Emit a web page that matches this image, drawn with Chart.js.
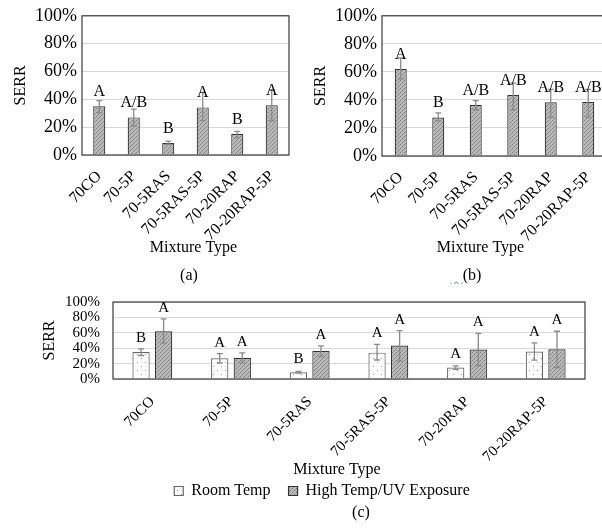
<!DOCTYPE html>
<html>
<head>
<meta charset="utf-8">
<script src="https://cdn.jsdelivr.net/npm/chart.js@4.4.1/dist/chart.umd.min.js"></script>
<style>
  html, body { margin: 0; padding: 0; background: #fff; overflow: hidden; width: 602px; height: 531px; position: relative;
    font-family: "Liberation Serif", "Times New Roman", serif; }
  canvas { position: absolute; }
  .cap { position: absolute; font-size: 16px; line-height: 16px; color: #000; transform: translateX(-50%); white-space: nowrap; }
  .sq { text-decoration: underline wavy #4a7bd0; text-decoration-thickness: 1px; }
</style>
</head>
<body>
<canvas id="chartA" width="300" height="260" style="left:0;top:0;width:300px;height:260px"></canvas>
<canvas id="chartB" width="310" height="260" style="left:300px;top:0;width:310px;height:260px"></canvas>
<canvas id="chartC" width="602" height="229" style="left:0;top:280px;width:602px;height:229px"></canvas>
<div class="cap" style="left:189px;top:267px">(a)</div>
<div class="cap" style="left:466px;top:267px"><span class="sq">&nbsp;&nbsp;&nbsp;</span>(b)</div>
<div class="cap" style="left:361px;top:504px">(c)</div>

<script>
const FONT = '"Liberation Serif", "Times New Roman", serif';

// mixtures
const categories = ['70CO', '70-5P', '70-5RAS', '70-5RAS-5P', '70-20RAP', '70-20RAP-5P'];
const yTicks = [0, 20, 40, 60, 80, 100];

// room temp SERR (%)
const roomMean = [35, 27, 8.7, 34.2, 15, 35.8];
const roomLow  = [30.5, 20.8, 7.6, 24.7, 12.5, 24.5];
const roomHigh = [39, 33, 10, 45, 17, 47];

// high temp / UV SERR (%)
const uvMean = [62, 27.5, 36.4, 43.5, 38.3, 38.6];
// error bars as drawn in (b)
const uvLowB  = [55, 25, 33, 33, 27.7, 27.7];
const uvHighB = [70, 30.8, 39.5, 52, 47.5, 47.5];
// error bars as drawn in (c)
const uvLowC  = [46.5, 20.9, 29.5, 23.3, 17, 14.7];
const uvHighC = [78, 34, 43, 62.8, 59.3, 62];

// significance letters
const lettersA = ['A', 'A/B', 'B', 'A', 'B', 'A'];
const lettersB = ['A', 'B', 'A/B', 'A/B', 'A/B', 'A/B'];
const lettersRoomC = ['B', 'A', 'B', 'A', 'A', 'A'];
const lettersUvC = ['A', 'A', 'A', 'A', 'A', 'A'];

function makePattern(size, bg, dots) {
  const c = document.createElement('canvas');
  c.width = size; c.height = size;
  const g = c.getContext('2d');
  g.fillStyle = bg;
  g.fillRect(0, 0, size, size);
  dots.forEach(d => { g.fillStyle = d[2]; g.fillRect(d[0], d[1], 1, 1); });
  return g.createPattern(c, 'repeat');
}

const uvFill = makePattern(4, '#b8b8b8', [[0,0,'#7c7c7c'],[2,2,'#7c7c7c'],[1,3,'#9a9a9a'],[3,1,'#9a9a9a']]);
const roomFill = makePattern(8, '#ffffff', [[1,2,'#9a9a9a'],[5,6,'#9a9a9a']]);

// frame, error bars and letters
const decoPlugin = {
  id: 'deco',
  afterDatasetsDraw(chart, args, opts) {
    const ctx = chart.ctx, a = chart.chartArea, y = chart.scales.y;
    ctx.save();
    ctx.strokeStyle = '#3a3a3a';
    ctx.lineWidth = 1.2;
    ctx.strokeRect(a.left, a.top, a.right - a.left, a.bottom - a.top);

    chart.data.datasets.forEach((ds, i) => {
      const meta = chart.getDatasetMeta(i);
      meta.data.forEach((bar, j) => {
        const lo = y.getPixelForValue(ds.errLow[j]);
        const hi = y.getPixelForValue(ds.errHigh[j]);
        ctx.strokeStyle = '#8a8a8a';
        ctx.lineWidth = 1.3;
        ctx.beginPath();
        ctx.moveTo(bar.x, lo); ctx.lineTo(bar.x, hi);
        ctx.moveTo(bar.x - 3, lo); ctx.lineTo(bar.x + 3, lo);
        ctx.moveTo(bar.x - 3, hi); ctx.lineTo(bar.x + 3, hi);
        ctx.stroke();

        let ty = bar.y - opts.gapBar;
        if (opts.aboveError) ty = Math.min(ty, hi - opts.gapErr);
        ctx.fillStyle = '#000';
        ctx.font = opts.fontSize + 'px ' + FONT;
        ctx.textAlign = 'center';
        ctx.textBaseline = 'alphabetic';
        ctx.fillText(ds.letters[j], bar.x, ty);
      });
    });
    ctx.restore();
  }
};

function buildOptions(o) {
  return {
    responsive: false,
    animation: false,
    layout: { padding: { top: o.padTop, right: o.padRight, left: o.padLeft || 0, bottom: 0 } },
    plugins: {
      legend: o.legend || { display: false },
      tooltip: { enabled: false },
      deco: { gapBar: o.gapBar, gapErr: o.gapErr, aboveError: o.aboveError, fontSize: o.letterSize }
    },
    scales: {
      x: {
        grid: { display: false },
        border: { display: false },
        ticks: { color: '#000', font: { family: FONT, size: o.xFont }, minRotation: 45, maxRotation: 45, autoSkip: false, padding: o.xPad },
        title: { display: true, text: o.xTitle, color: '#000', font: { family: FONT, size: 16 }, padding: { top: 0, bottom: o.xTitlePad } },
        afterFit(s) { s.height = o.xHeight; }
      },
      y: {
        min: 0, max: 100,
        afterBuildTicks(s) { s.ticks = yTicks.map(v => ({ value: v })); },
        ticks: { color: '#000', font: { family: FONT, size: o.yFont }, padding: o.yPad, autoSkip: false, callback: v => v + '%' },
        grid: { color: '#d9d9d9', drawTicks: false },
        border: { display: false },
        title: { display: true, text: 'SERR', color: '#000', font: { family: FONT, size: 16 }, padding: { top: o.yTitlePad, bottom: 0 } },
        afterFit(s) { s.width = o.yWidth; }
      }
    }
  };
}

// (a) room temperature
new Chart(document.getElementById('chartA'), {
  type: 'bar',
  data: {
    labels: categories,
    datasets: [{
      label: 'Room Temp', data: roomMean, errLow: roomLow, errHigh: roomHigh, letters: lettersA,
      backgroundColor: uvFill, borderColor: '#333', borderWidth: 1.2,
      categoryPercentage: 1, barPercentage: 0.35
    }]
  },
  options: buildOptions({ padTop: 14, padRight: 11, yWidth: 82, xHeight: 105, xFont: 16, yFont: 18, xPad: 4,
    yPad: 5, yTitlePad: 11, xTitlePad: 3, gapBar: 10, gapErr: 7, aboveError: false, letterSize: 16,
    xTitle: '    Mixture Type' }),
  plugins: [decoPlugin]
});

// (b) high temperature / UV
new Chart(document.getElementById('chartB'), {
  type: 'bar',
  data: {
    labels: categories,
    datasets: [{
      label: 'High Temp/UV Exposure', data: uvMean, errLow: uvLowB, errHigh: uvHighB, letters: lettersB,
      backgroundColor: uvFill, borderColor: '#333', borderWidth: 1.2,
      categoryPercentage: 1, barPercentage: 0.32
    }]
  },
  options: buildOptions({ padTop: 14, padRight: 3, yWidth: 82, xHeight: 104, xFont: 16, yFont: 18, xPad: 4,
    yPad: 5, yTitlePad: 11, xTitlePad: 3, gapBar: 10, gapErr: 7, aboveError: false, letterSize: 16,
    xTitle: 'Mixture Type       ' }),
  plugins: [decoPlugin]
});

// (c) both conditions
new Chart(document.getElementById('chartC'), {
  type: 'bar',
  data: {
    labels: categories,
    datasets: [{
      label: 'Room Temp', data: roomMean, errLow: roomLow, errHigh: roomHigh, letters: lettersRoomC,
      backgroundColor: roomFill, borderColor: '#666', borderWidth: 1.2,
      categoryPercentage: 0.574, barPercentage: 0.766
    }, {
      label: 'High Temp/UV Exposure', data: uvMean, errLow: uvLowC, errHigh: uvHighC, letters: lettersUvC,
      backgroundColor: uvFill, borderColor: '#333', borderWidth: 1.2,
      categoryPercentage: 0.574, barPercentage: 0.766
    }]
  },
  options: buildOptions({ padTop: 13, padRight: 17, padLeft: 59, yWidth: 54, xHeight: 94, xFont: 15, yFont: 15, xPad: 6,
    yPad: 13, yTitlePad: -18.6, xTitlePad: -6.6, gapBar: 9, gapErr: 7, aboveError: true, letterSize: 15,
    xTitle: 'Mixture Type      ',
    legend: { display: true, position: 'bottom',
      labels: { color: '#000', font: { family: FONT, size: 16 }, boxWidth: 9, boxHeight: 9, padding: 10,
        generateLabels(chart) {
          const items = Chart.defaults.plugins.legend.labels.generateLabels(chart);
          items[0].text += '\u2002';
          return items;
        } } } }),
  plugins: [decoPlugin]
});
</script>
</body>
</html>
